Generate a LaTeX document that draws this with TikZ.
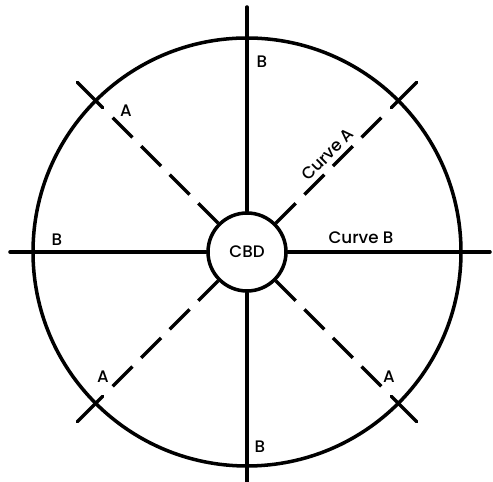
\documentclass[tikz,border=0pt]{standalone}
\usepackage{fontspec}
\setsansfont{Poppins}[UprightFont=* Medium]
\usetikzlibrary{calc}

\begin{document}
\begin{tikzpicture}[x=0.02cm, y=0.02cm, line width=2pt,
        lbl/.style={font=\sffamily\fontsize{9.5}{11}\selectfont, inner sep=0pt},
        road/.style={line cap=round},
        dashroad/.style={line cap=butt, dash pattern=on 16pt off 7pt}]
        \useasboundingbox (0,0) rectangle (493,482);
        \coordinate (ctr) at (247,230);

        \node[circle, draw, minimum size=428*0.02cm] (city) at (ctr) {};
        \node[circle, draw, fill=white, minimum size=78*0.02cm, lbl] (cbd) at (ctr) {CBD};

        % axes of curve B
        \coordinate (bN) at ($(ctr)+(90:245)$);
        \coordinate (bS) at ($(ctr)+(270:232)$);
        \coordinate (bW) at ($(ctr)+(180:237)$);
        \coordinate (bE) at ($(ctr)+(0:243)$);
        \draw[road] (cbd.north) -- (bN);
        \draw[road] (cbd.south) -- (bS);
        \draw[road] (cbd.west) -- (bW);
        \draw[road] (cbd.east) -- (bE);

        % diagonals of curve A
        \foreach \ang in {45,135,225,315} {
            \coordinate (aMid\ang) at ($(ctr)+(\ang:190)$);
            \coordinate (aIn\ang) at ($(ctr)+(\ang:204)$);
            \coordinate (aOut\ang) at ($(ctr)+(\ang:240)$);
            \draw[dashroad] (cbd.\ang) -- (aMid\ang);
            \draw[road] (aIn\ang) -- (aOut\ang);
        }
        \coordinate (curveAat) at ($(ctr)+(45:126)$);

        \node[lbl] (labBN) at (262,420) {B};
        \node[lbl] (labBS) at (260,35) {B};
        \node[lbl] (labBW) at (57,242) {B};
        \node[lbl] (labANW) at (126,371) {A};
        \node[lbl] (labASE) at (389,105) {A};
        \node[lbl] (labASW) at (103,105) {A};
        \node[lbl, rotate=45, anchor=south, inner sep=2.5pt] (labCurveA) at (curveAat) {Curve A};
        \node[lbl, anchor=south, inner sep=2.5pt] (labCurveB) at (361,232) {Curve B};
      \end{tikzpicture}
\end{document}
